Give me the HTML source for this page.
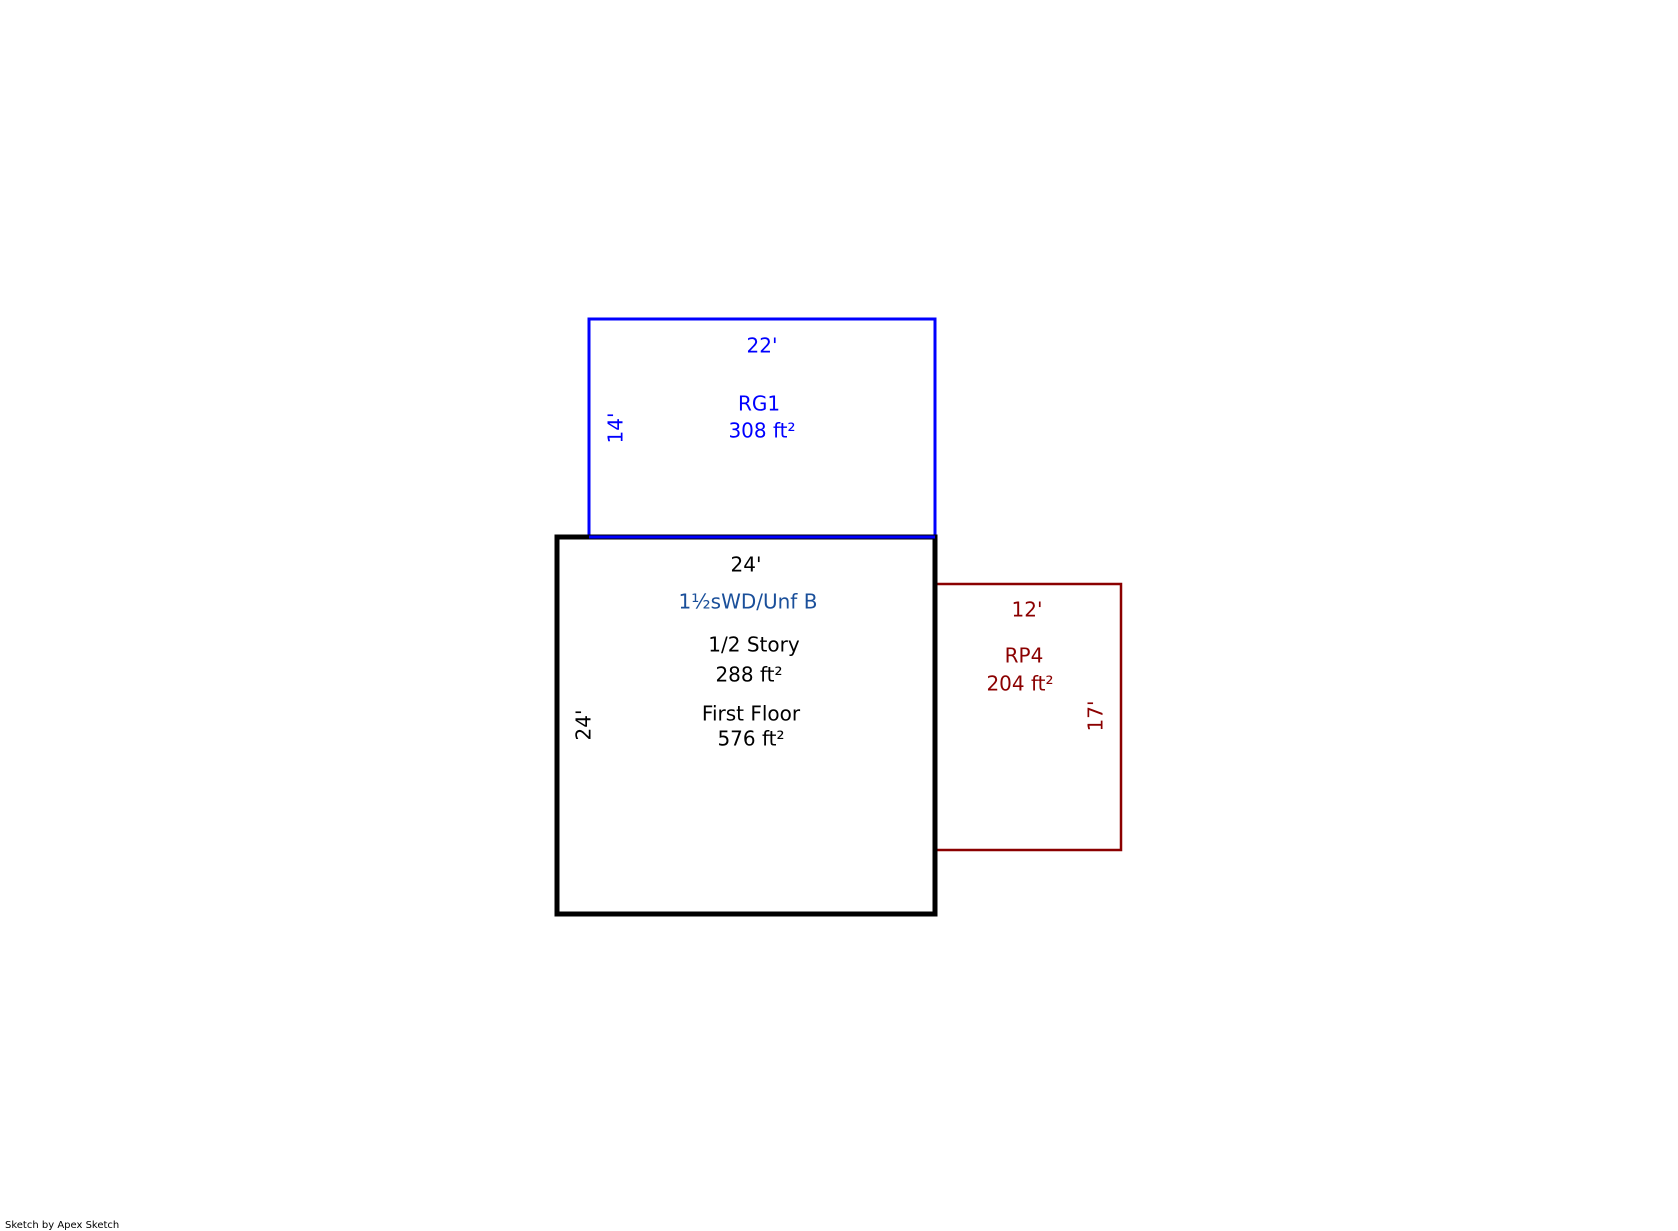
<!DOCTYPE html>
<html><head><style>
html,body{margin:0;padding:0;background:#fff;}
svg{display:block}
text{font-family:"DejaVu Sans","Liberation Sans",sans-serif;font-size:20px;text-anchor:middle;dominant-baseline:middle}
</style></head><body>
<svg width="1678" height="1231" viewBox="0 0 1678 1231" xmlns="http://www.w3.org/2000/svg">
<rect x="589" y="319" width="346" height="218" fill="none" stroke="#0000ff" stroke-width="3"/>
<rect x="935" y="584" width="186" height="266" fill="none" stroke="#8b0000" stroke-width="2.5"/>
<rect x="557" y="537" width="378" height="377" fill="none" stroke="#000" stroke-width="5"/>
<line x1="589" y1="537" x2="935" y2="537" stroke="#0000ff" stroke-width="3"/>
<g fill="#0000ff">
<text x="762" y="347">22'</text>
<text x="759" y="405">RG1</text>
<text x="762" y="432">308 ft²</text>
<text transform="translate(617,428) rotate(-90)">14'</text>
</g>
<g fill="#000">
<text x="746" y="566">24'</text>
<text x="754" y="646">1/2 Story</text>
<text x="749" y="676">288 ft²</text>
<text x="751" y="715">First Floor</text>
<text x="751" y="740">576 ft²</text>
<text transform="translate(585,725) rotate(-90)">24'</text>
</g>
<text x="748" y="603" fill="#1a4f9a">1½sWD/Unf B</text>
<g fill="#8b0000">
<text x="1027" y="611">12'</text>
<text x="1024" y="657">RP4</text>
<text x="1020" y="685">204 ft²</text>
<text transform="translate(1097,716) rotate(-90)">17'</text>
</g>
<text x="5" y="1225" style="font-size:10px;text-anchor:start" fill="#000">Sketch by Apex Sketch</text>
</svg>
</body></html>
